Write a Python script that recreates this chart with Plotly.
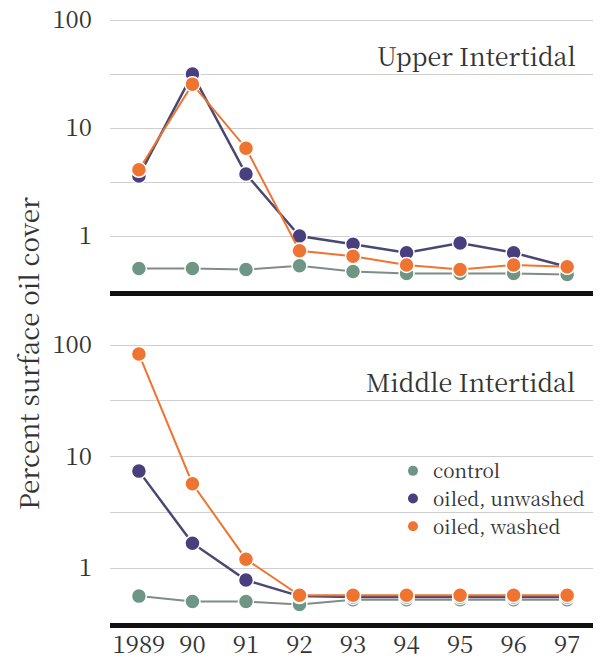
import plotly.graph_objects as go

years = [1989, 1990, 1991, 1992, 1993, 1994, 1995, 1996, 1997]
x_labels = ["1989", "90", "91", "92", "93", "94", "95", "96", "97"]

upper_control = [0.50, 0.50, 0.49, 0.53, 0.47, 0.45, 0.45, 0.45, 0.44]
upper_unwashed = [3.6, 31.6, 3.75, 1.0, 0.84, 0.70, 0.86, 0.70, 0.52]
upper_washed = [4.1, 25.5, 6.5, 0.73, 0.65, 0.54, 0.49, 0.54, 0.52]

middle_control = [0.56, 0.50, 0.50, 0.47, 0.52, 0.52, 0.52, 0.52, 0.52]
middle_unwashed = [7.4, 1.67, 0.78, 0.56, 0.55, 0.55, 0.55, 0.55, 0.55]
middle_washed = [83, 5.7, 1.2, 0.57, 0.57, 0.57, 0.57, 0.57, 0.57]

series_names = ["control", "oiled, unwashed", "oiled, washed"]
y_tickvals = [1, 3.162, 10, 31.62, 100]
y_ticktext = ["1", "", "10", "", "100"]

marker_colors = ["#6f9585", "#4a3f7e", "#ef7331"]
line_colors = ["#7f8c88", "#4a4870", "#ef7331"]
line_widths = [2, 2.5, 2]

FONT = "Noto Serif CJK SC"
TXT = "#333333"

fig = go.Figure()

panels = [
    ([upper_control, upper_unwashed, upper_washed], "x", "y"),
    ([middle_control, middle_unwashed, middle_washed], "x2", "y2"),
]
for data, xa, ya in panels:
    for i, vals in enumerate(data):
        fig.add_trace(go.Scatter(
            x=years, y=vals, xaxis=xa, yaxis=ya,
            mode="lines+markers", name=series_names[i], showlegend=False,
            line=dict(color=line_colors[i], width=line_widths[i]),
            marker=dict(size=15, color=marker_colors[i],
                        line=dict(color="white", width=1.5)),
        ))

# legend-only entries
for i, nm in enumerate(series_names):
    fig.add_trace(go.Scatter(
        x=[None], y=[None], xaxis="x2", yaxis="y2", mode="markers", name=nm,
        marker=dict(size=10, color=marker_colors[i]), showlegend=True,
    ))

common_x = dict(range=[1988.46, 1997.52], showgrid=False, zeroline=False,
                showline=True, linecolor="#111111", linewidth=5, automargin=False,
                tickvals=years, ticktext=x_labels, ticks="",
                ticklabeloverflow="allow",
                tickfont=dict(family=FONT, size=24, color=TXT))
common_y = dict(type="log", showgrid=True, gridcolor="#cfcfcf", gridwidth=1,
                zeroline=False, showline=False, tickvals=y_tickvals, automargin=False,
                ticktext=y_ticktext, ticks="", ticklabelstandoff=17,
                ticklabeloverflow="allow",
                tickfont=dict(family=FONT, size=24, color=TXT))

fig.update_layout(
    width=593, height=653,
    margin=dict(l=102, r=6, t=6, b=38, autoexpand=False),
    paper_bgcolor="white", plot_bgcolor="white",
    xaxis=dict(**common_x, anchor="y", showticklabels=False),
    yaxis=dict(**common_y, domain=[0.5452, 1.0], range=[-0.509, 2.056], anchor="x"),
    xaxis2=dict(**common_x, anchor="y2", ticklabelstandoff=-4),
    yaxis2=dict(**common_y, domain=[0.0, 0.4663], range=[-0.493, 2.054], anchor="x2"),
    legend=dict(x=0.5835, y=0.2808, xanchor="left", yanchor="top",
                bgcolor="rgba(0,0,0,0)", borderwidth=0, itemwidth=30,
                font=dict(family=FONT, size=19, color=TXT), tracegroupgap=0),
    annotations=[
        dict(text="Upper Intertidal", xref="paper", yref="paper", x=0.965, y=0.9327,
             xanchor="right", yanchor="middle", showarrow=False,
             font=dict(family=FONT, size=25, color=TXT)),
        dict(text="Middle Intertidal", xref="paper", yref="paper", x=0.963, y=0.3974,
             xanchor="right", yanchor="middle", showarrow=False,
             font=dict(family=FONT, size=25, color=TXT)),
        dict(text="Percent surface oil cover", xref="paper", yref="paper",
             x=-0.171, y=0.4417, xanchor="center", yanchor="middle", textangle=-90,
             showarrow=False, font=dict(family=FONT, size=26, color=TXT)),
    ],
)

fig.write_html("out.html")
